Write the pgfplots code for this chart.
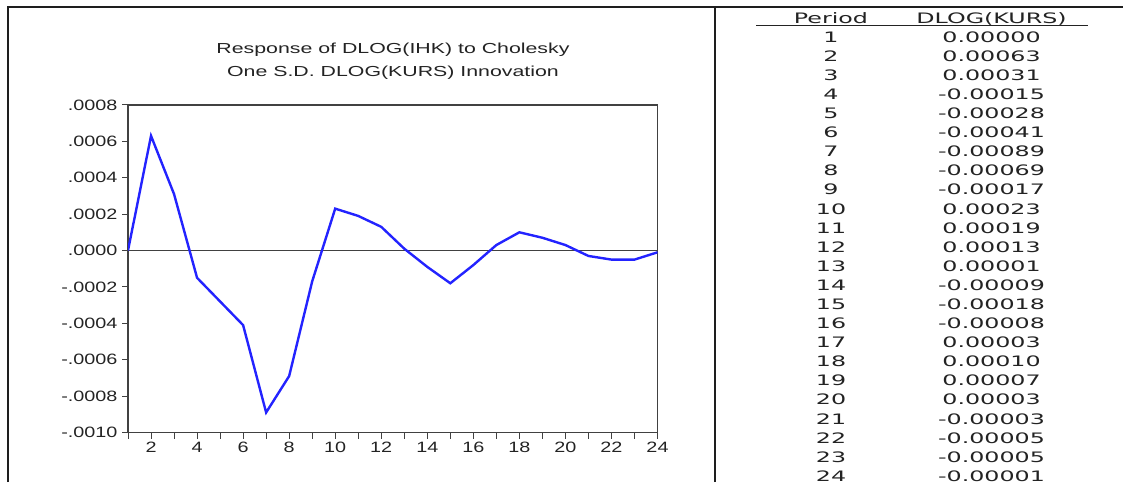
\documentclass[border=0pt]{standalone}
\usepackage{pgfplots}
\pgfplotsset{compat=1.18}
\usepackage{pgfplotstable}
\usepackage{graphicx}
\usepackage{fontspec}
\setmainfont{Liberation Sans}
\newfontfamily\tabfont{DejaVu Sans}

\definecolor{irfblue}{RGB}{35,35,255}
\definecolor{framegray}{RGB}{30,30,30}
\definecolor{axisgray}{RGB}{65,65,65}
\definecolor{textgray}{RGB}{35,35,35}

% wide setting of the chart text and of the table text
\newcommand\wide[1]{\scalebox{1.32}[1]{#1}}
\newcommand\twide[1]{\scalebox{1.65}[1]{#1}}
\newcommand\ttlwide[1]{\scalebox{1.47}[1]{#1}}

% impulse response of DLOG(IHK) to a DLOG(KURS) shock
\pgfplotstableread{
period value
1 0.00000
2 0.00063
3 0.00031
4 -0.00015
5 -0.00028
6 -0.00041
7 -0.00089
8 -0.00069
9 -0.00017
10 0.00023
11 0.00019
12 0.00013
13 0.00001
14 -0.00009
15 -0.00018
16 -0.00008
17 0.00003
18 0.00010
19 0.00007
20 0.00003
21 -0.00003
22 -0.00005
23 -0.00005
24 -0.00001
}\irf

\begin{document}
\begin{tikzpicture}[x=1pt,y=1pt]
\useasboundingbox (0,0) rectangle (1123,482);

% outer frame and panel divider
\draw[framegray, line width=2.2pt] (8,0) -- (8,475) -- (1123,475);
\draw[framegray, line width=2.2pt] (715,0) -- (715,475);

% chart title
\node[font=\fontsize{14.5}{16}\selectfont, text=textgray] at (393,432.5) {\ttlwide{Response of DLOG(IHK) to Cholesky}};
\node[font=\fontsize{14.5}{16}\selectfont, text=textgray] at (393,409.5) {\ttlwide{One S.D. DLOG(KURS) Innovation}};

\begin{axis}[
  at={(128pt,49.5pt)}, anchor=south west,
  scale only axis, width=529.5pt, height=327.6pt,
  xmin=1, xmax=24, ymin=-0.001, ymax=0.0008,
  xtick={1,...,24},
  xticklabels={,\wide{2},,\wide{4},,\wide{6},,\wide{8},,\wide{10},,\wide{12},,\wide{14},,\wide{16},,\wide{18},,\wide{20},,\wide{22},,\wide{24}},
  ytick={-0.0010,-0.0008,-0.0006,-0.0004,-0.0002,0,0.0002,0.0004,0.0006,0.0008},
  yticklabels={\wide{-.0010},\wide{-.0008},\wide{-.0006},\wide{-.0004},\wide{-.0002},\wide{.0000},\wide{.0002},\wide{.0004},\wide{.0006},\wide{.0008}},
  scaled y ticks=false,
  tick align=outside, major tick length=6pt,
  xtick pos=lower, ytick pos=left,
  tick style={axisgray, line width=1pt},
  axis line style={axisgray, line width=1.3pt},
  ticklabel style={font=\fontsize{15}{17}\selectfont, text=textgray},
  yticklabel style={xshift=-1pt},
]
\addplot[axisgray, line width=0.8pt] coordinates {(1,0) (24,0)};
\addplot[irfblue, line width=2.4pt] table[x=period, y=value]{\irf};
\end{axis}

% table of the response values
\node[font=\tabfont\fontsize{14.4}{16}\selectfont, text=textgray] at (831,463.5) {\twide{Period}};
\node[font=\tabfont\fontsize{14.4}{16}\selectfont, text=textgray] at (991.5,463.5) {\twide{DLOG(KURS)}};
\draw[textgray, line width=1pt] (756,456) -- (1088,456);
\foreach \r in {0,...,23}{
  \pgfplotstablegetelem{\r}{period}\of\irf
  \let\per\pgfplotsretval
  \pgfplotstablegetelem{\r}{value}\of\irf
  \let\val\pgfplotsretval
  \node[font=\tabfont\fontsize{14.4}{16}\selectfont, text=textgray] at (831,{445-19.09*\r}) {\twide{\per}};
  \node[font=\tabfont\fontsize{14.4}{16}\selectfont, text=textgray] at (991.5,{445-19.09*\r}) {\twide{\val}};
}
\end{tikzpicture}
\end{document}
